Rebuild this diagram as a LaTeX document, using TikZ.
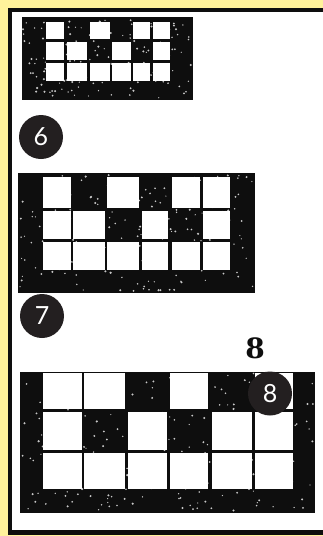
\documentclass[tikz,border=0pt]{standalone}
\usepackage{fontspec}
\newfontfamily\labelfont{Lato}
\newfontfamily\numfont{DejaVu Serif}
\definecolor{bgyellow}{RGB}{255,242,155}
\definecolor{inkblack}{RGB}{14,14,14}
\definecolor{badge}{RGB}{35,31,32}
\definecolor{speckgray}{RGB}{200,200,200}
\tikzset{
  ink/.style={fill=inkblack},
  cellw/.style={fill=white},
  badgenode/.style={circle, fill=badge, minimum size=44pt, inner sep=0pt,
    text=white, font=\labelfont\fontsize{25}{25}\selectfont},
  numlabel/.style={inner sep=0pt, text=inkblack, font=\numfont\bfseries\fontsize{28}{28}\selectfont},
  speck/.style={fill=speckgray},
}
\newcommand\specks[5]{% x1 x2 y1 y2 count
  \foreach \k in {1,...,#5}{
    \pgfmathsetmacro\sx{#1+rnd*(#2-#1)}
    \pgfmathsetmacro\sy{#3+rnd*(#4-#3)}
    \pgfmathsetmacro\sr{0.6+0.6*rnd}
    \fill[speck] (\sx,\sy) circle (\sr);
  }}
\begin{document}
\begin{tikzpicture}[x=1pt,y=-1pt]
\pgfmathsetseed{7}
\useasboundingbox (0,0) rectangle (323,536);
% page frame
\fill[bgyellow] (0,0) rectangle (323,536);
\fill[inkblack] (8,8) rectangle (323,535);
\fill[white] (12,12) rectangle (323,530);

% ---------- figure 6 ----------
\fill[ink] (21.7,17.3) rectangle (192.7,100);
\specks{23}{191}{19}{98}{160}
\foreach \a/\b/\c/\d in {
  45.7/64.3/21.7/39.3, 90/110/21.7/39.3, 133.3/150/21.7/39.3, 152.7/170/21.7/39.3,
  45.7/64.3/41.7/60, 66.7/87.3/41.7/60, 111.7/131/41.7/60, 152.7/170/41.7/60,
  45.7/64.3/62.7/80.7, 66.7/87.3/62.7/80.7, 90/110/62.7/80.7,
  111.7/131/62.7/80.7, 133.3/150/62.7/80.7, 152.7/170/62.7/80.7}
  {\fill[cellw] (\a,\c) rectangle (\b,\d);}

% ---------- figure 7 ----------
\fill[ink] (18.3,173.3) rectangle (255,293.3);
\specks{20}{253}{175}{291}{200}
\foreach \a/\b/\c/\d in {
  43.3/70.7/177.3/208.3, 107.3/139.3/177.3/208.3, 171.7/200/177.3/208.3, 202.7/230/177.3/208.3,
  43.3/70.7/210.7/239.3, 73.3/105/210.7/239.3, 141.7/168.3/210.7/239.3, 202.7/230/210.7/239.3,
  43.3/70.7/241.7/270, 73.3/105/241.7/270, 107.3/139.3/241.7/270,
  141.7/168.3/241.7/270, 171.7/200/241.7/270, 202.7/230/241.7/270}
  {\fill[cellw] (\a,\c) rectangle (\b,\d);}

% ---------- figure 8 ----------
\fill[ink] (20,371.7) rectangle (315,512.7);
\specks{22}{313}{373}{511}{240}
\foreach \a/\b/\c/\d in {
  42.7/81.7/373.3/409.3, 84.3/125/373.3/409.3, 170/208.3/373.3/409.3, 255/293.3/373.3/409.3,
  42.7/81.7/411.7/450, 128.3/166.7/411.7/450, 211.7/251.7/411.7/450, 255/293.3/411.7/450,
  42.7/81.7/452.7/489.3, 84.3/125/452.7/489.3, 128.3/166.7/452.7/489.3,
  170/208.3/452.7/489.3, 211.7/251.7/452.7/489.3, 255/293.3/452.7/489.3}
  {\fill[cellw] (\a,\c) rectangle (\b,\d);}

% ---------- labels ----------
\node[badgenode] (b6) at (41,137) {6};
\node[badgenode] (b7) at (42,316) {7};
\node[badgenode] (b8) at (270,393.5) {8};
\node[numlabel] (n8) at (255,348) {8};
\end{tikzpicture}
\end{document}
